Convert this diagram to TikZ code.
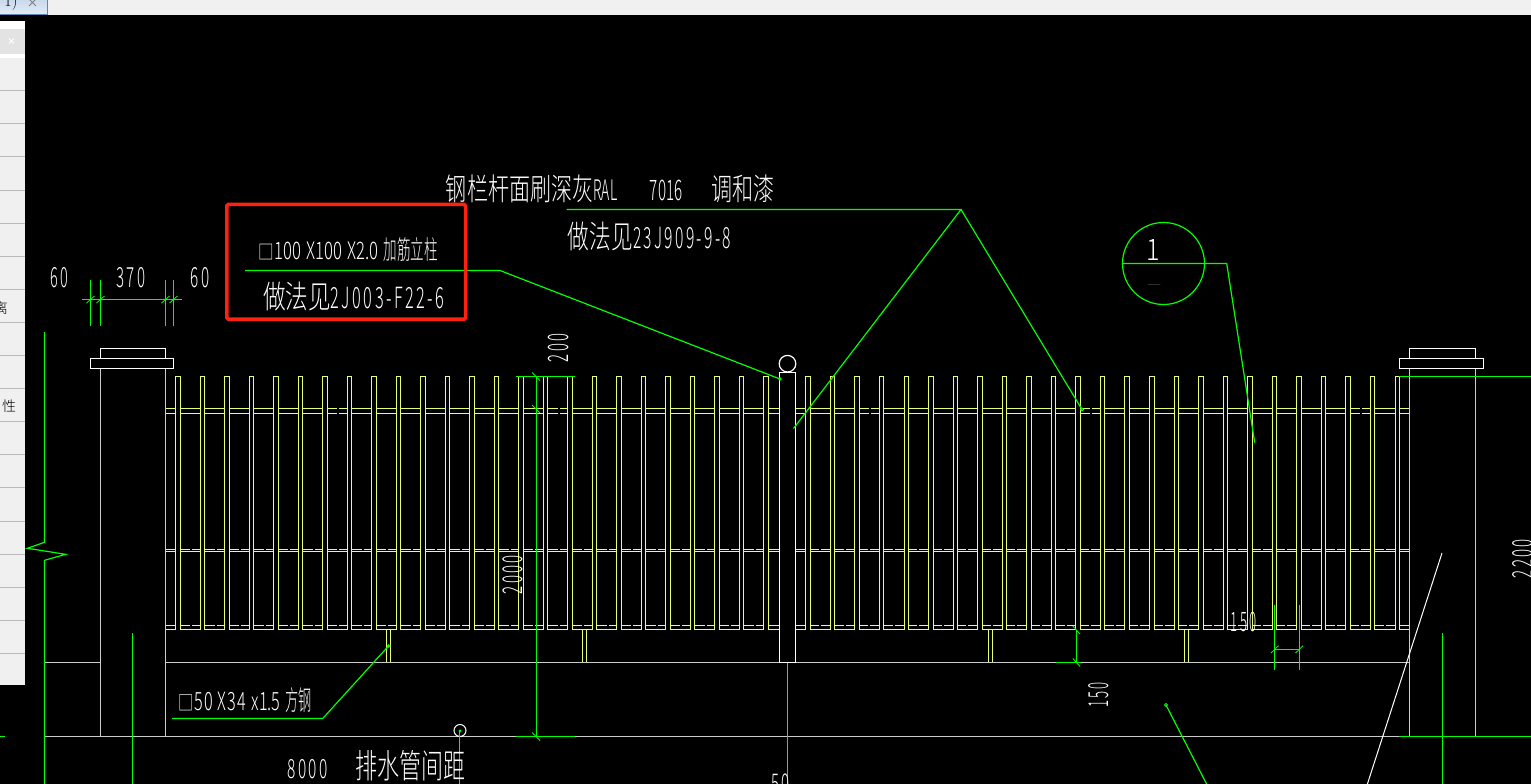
\documentclass[tikz,border=0pt]{standalone}
\usepackage{graphicx}
\usepackage{fontspec}
\newfontfamily\cjk{Noto Sans CJK SC Light}
\newcommand{\cadfit}[3]{\resizebox*{#1pt}{#2pt}{\fontsize{20pt}{22pt}\cjk #3}}
\newcommand{\cadnum}[3][0]{{\addfontfeature{LetterSpace=#1}\scalebox{#2}[.92]{#3}}}
\definecolor{cadgreen}{HTML}{00FF00}
\definecolor{cadyellow}{HTML}{EAFF70}
\definecolor{cadgrey}{HTML}{CCCCCC}
\definecolor{cadred}{HTML}{FF2010}
\definecolor{uibg}{HTML}{F0F0F0}
\definecolor{tabedge}{HTML}{5B87B5}
\definecolor{tabtop}{HTML}{C6D8EC}
\definecolor{tabbot}{HTML}{E2ECF6}
\tikzset{
  greenline/.style={draw=cadgreen,line width=1.2pt},
  greyline/.style={draw=cadgrey,line width=1.2pt},
  whiteline/.style={draw=white,line width=1.2pt},
  picket/.style={draw=cadyellow,fill=black,line width=1.7pt},
  rail/.style={draw=cadyellow,line width=1.6pt},
  cadtext/.style={text=white,inner sep=0pt,outer sep=0pt},
  uitext/.style={text=black,inner sep=0pt,font=\fontsize{14pt}{14pt}\cjk},
}
\begin{document}
\begin{tikzpicture}[x=1pt,y=-1pt]
\useasboundingbox (0,0) rectangle (1531,784);
\clip (0,0) rectangle (1531,784);
\fill[black] (0,0) rectangle (1531,784);
% --- window chrome
\fill[uibg] (0,0) rectangle (1531,14.7);
\shade[top color=tabtop,bottom color=tabbot] (-2,-2) rectangle (47.5,14.5);
\draw[draw=tabedge,line width=1pt] (-2,14.5) -- (47.5,14.5) -- (47.5,-2);
\node[uitext,anchor=base,font=\fontsize{16pt}{16pt}\selectfont] (tabname) at (11,7) {1)};
\draw[draw=gray,line width=1pt] (29,-1) -- (36,6) (36,-1) -- (29,6);
\fill[uibg] (0,20.7) rectangle (25,684.7);
\fill[white] (0,20.7) rectangle (25,57.7);
\fill[black!11] (0,29) rectangle (25,54);
\draw[white,line width=1pt] (9,38.5) -- (14,43.5) (14,38.5) -- (9,43.5);
\foreach \k in {0,...,17}{
  \pgfmathsetmacro\yy{90.7+33.1*\k}
  \draw[draw=black!27,line width=1pt] (0,\yy) -- (25,\yy);
}
\begin{scope}
\clip (0,20) rectangle (25,685);
\node[uitext,anchor=center] (ui1) at (1,308) {离};
\node[uitext,anchor=center] (ui2) at (9,406) {性};
\end{scope}
% --- rails
\foreach \y in {408.5,413.5,549.5,551.5,625.5,629.5}{
  \draw[rail] (165.5,\y) -- (1409.5,\y);
}
\foreach \xx in {337,558,869,1090,1360}{
  \fill[black] (\xx,407.5) rectangle ++(2,1.9);
  \fill[black] (\xx,412.5) rectangle ++(2,1.9);
}
\foreach \k in {0,...,23}{
  \pgfmathsetmacro\xa{190+24.5*\k}
  \pgfmathsetmacro\xb{819+24.55*\k}
  \fill[black] (\xa,548.5) rectangle ++(2,1.9);
  \fill[black] (\xb,548.5) rectangle ++(2,1.9);
  \fill[black] (\xa,624.5) rectangle ++(2,1.9);
  \fill[black] (\xb,624.5) rectangle ++(2,1.9);
}
% --- pickets
\foreach \k in {0,...,24}{
  \pgfmathsetmacro\xa{round(175.3+24.5*\k)+.5}
  \pgfmathsetmacro\xb{round(175.3+24.5*\k+4.5)+.5}
  \draw[picket] (\xa,629.5) -- (\xa,376.5) -- (\xb,376.5) -- (\xb,629.5);
  \pgfmathsetmacro\xc{round(805.3+24.55*\k)+.5}
  \pgfmathsetmacro\xd{round(805.3+24.55*\k+4.5)+.5}
  \draw[picket] (\xc,629.5) -- (\xc,376.5) -- (\xd,376.5) -- (\xd,629.5);
}
% --- supports under the bottom rail
\foreach \xx in {386,582,988,1184}{
  \draw[rail] (\xx.5,629.5) -- (\xx.5,662.5) (\xx.5+4,629.5) -- (\xx.5+4,662.5);
}
% --- ground and brick posts
\draw[greyline] (44.5,662.5) -- (100.5,662.5) (165.5,662.5) -- (1409.5,662.5);
\draw[greyline] (44.5,736.5) -- (1409.5,736.5);
\draw[greyline] (100.5,368.5) -- (100.5,736.5) (165.5,368.5) -- (165.5,736.5);
\draw[greyline] (1409.5,368.5) -- (1409.5,736.5) (1475.5,368.5) -- (1475.5,736.5);
\draw[whiteline] (100.5,358.5) rectangle (165.5,348.5);
\draw[whiteline] (90.5,358.5) rectangle (173.5,368.5);
\draw[whiteline] (1409.5,358.5) rectangle (1475.5,348.5);
\draw[whiteline] (1399.5,358.5) rectangle (1483.5,368.5);
% --- centre post
\draw[whiteline,fill=black] (779.5,372.5) rectangle (795.5,662.5);
\draw[whiteline] (787.5,363.7) circle (8.3);
% --- green break line and axes
\draw[greenline] (44.5,332) -- (44.5,542.3) -- (27.3,548.3) -- (65.7,554.3) -- (44.5,560.3) -- (44.5,784);
\draw[greenline] (132.5,633) -- (132.5,784);
\draw[greenline] (0,736.5) -- (5,736.5);
\draw[greenline] (1442.5,633) -- (1442.5,784);
\draw[greenline] (1399,736.5) -- (1531,736.5);
\draw[greenline] (1399,376.5) -- (1531,376.5);
\draw[greenline] (787.5,662.5) -- (787.5,784);
% --- dimension 60/370/60
\draw[greenline] (82,299.5) -- (182,299.5);
\foreach \xx in {90.5,100.5,165.5,173.5}{
  \draw[greenline] (\xx,280) -- (\xx,325.7);
  \draw[draw=cadgreen,line width=.8pt] (\xx-4,303) -- (\xx+4,296);
}
% --- dimension 2000/200
\draw[greenline] (536.5,376.5) -- (536.5,736.5);
\draw[greenline] (516,376.5) -- (575,376.5) (516,736.5) -- (575,736.5);
\foreach \yy in {376.5,409,736.5}{
  \draw[draw=cadgreen,line width=.8pt] (532,\yy-4) -- (540,\yy+4);
}
% --- dimension 150 (vertical)
\draw[greenline] (1076.5,629.5) -- (1076.5,662.5);
\draw[greenline] (1056,662.5) -- (1081,662.5);
\draw[draw=cadgreen,line width=.8pt] (1072.8,626) -- (1080,634) (1072.8,658.5) -- (1080,666.5);
% --- dimension 150 (horizontal)
\draw[greenline] (1274.5,604.5) -- (1274.5,670) (1299.5,604.5) -- (1299.5,670);
\draw[greenline] (1274.5,649.5) -- (1299.5,649.5);
\draw[draw=cadgreen,line width=.8pt] (1271,653) -- (1278.5,645.7) (1295.5,653) -- (1303,645.7);
% --- white diagonal break
\draw[draw=white,line width=1pt] (1442,553) -- (1367.4,784);
% --- leaders
\coordinate (la) at (245,270.5);
\coordinate (lb) at (500,270.5);
\coordinate (lc) at (780,379);
\draw[greenline] (la) -- (lb) -- (lc);
\fill[cadgreen] (lc) circle (1.8);
\coordinate (ta) at (566.5,209.5);
\coordinate (tb) at (961,209.5);
\coordinate (tc) at (793.5,428.5);
\coordinate (td) at (1082,409.5);
\draw[greenline] (ta) -- (tb) -- (tc);
\draw[greenline] (tb) -- (td);
\draw[draw=cadgreen,line width=1pt] (td) circle (1.5);
\coordinate (sb) at (1226.7,263.5);
\coordinate (sc) at (1254.7,442.7);
\node[circle,draw=cadgreen,line width=1.2pt,minimum size=82pt,inner sep=0pt] (sect) at (1163.5,263.5) {};
\draw[greenline] (sect.west) -- (sb) -- (sc);
\coordinate (ba) at (172,718.5);
\coordinate (bb) at (322.7,718.5);
\coordinate (bc) at (388.5,646);
\draw[greenline] (ba) -- (bb) -- (bc);
\draw[draw=cadgreen,line width=1pt] (bc) circle (1.2);
\coordinate (ra) at (1166,705);
\coordinate (rb) at (1206.6,784);
\draw[greenline] (ra) -- (rb);
\draw[draw=cadgreen,line width=1pt] (ra) circle (1.5);
\node[circle,draw=white,line width=1pt,minimum size=12pt,inner sep=0pt] (drain) at (460,730.5) {};
\coordinate (dr) at (459.5,784);
\fill[cadgreen] (460,731) circle (1.7);
\draw[greenline] (459.5,731) -- (dr);
% --- red highlight
\draw[draw=cadred,line width=3.5pt,rounded corners=1.5pt] (226.8,204.4) rectangle (465.6,319.2);
% --- texts
\node[cadtext] (t1) at (610.5,189) {\cadfit{329}{28}{钢栏杆面刷深灰\cadnum{.66}{RAL}\hspace{31pt}\cadnum{.72}{7016}\hspace{28pt}调和漆}};
\node[cadtext] (t2) at (649.5,236.5) {\cadfit{163}{29}{做法见\cadnum[15]{.72}{23J909-9-8}}};
\node[cadtext] (t3) at (348.5,250) {\cadfit{179}{24}{\scalebox{.75}[.75]{□}\cadnum{.8}{100}\hspace{5pt}\cadnum{.8}{X100}\hspace{5pt}\cadnum{.8}{X2.0}\hspace{5pt}\scalebox{.65}[1]{加筋立柱}}};
\node[cadtext] (t4) at (353.5,296.2) {\cadfit{181}{29}{做法见\cadnum[15]{.72}{2J003-F22-6}}};
\node[cadtext] (t5) at (245.5,700.5) {\cadfit{133}{25}{\scalebox{.75}[.75]{□}\cadnum[8]{.8}{50}\hspace{5pt}\cadnum[8]{.8}{X34}\hspace{5pt}\cadnum{.8}{x1.5}\hspace{5pt}\scalebox{.65}[1]{方钢}}};
\node[cadtext] (t6) at (307.7,769) {\cadfit{40}{19.4}{\cadnum[15]{.8}{8000}}};
\node[cadtext] (t7) at (410,765.3) {\cadfit{110}{30.7}{排水管间距}};
\node[cadtext] (t8) at (59.5,277.5) {\cadfit{17.6}{20.4}{\cadnum[15]{.8}{60}}};
\node[cadtext] (t9) at (131,277.5) {\cadfit{28.6}{20.4}{\cadnum[15]{.8}{370}}};
\node[cadtext] (t10) at (200,277.5) {\cadfit{18.6}{20.4}{\cadnum[15]{.8}{60}}};
\node[cadtext] (t11) at (1243.6,622) {\cadfit{25.3}{19.7}{\cadnum[15]{.8}{150}}};
\node[cadtext,rotate=90] (t12) at (1099,695) {\cadfit{25}{20.3}{\cadnum[15]{.8}{150}}};
\node[cadtext,rotate=90] (t13) at (1523,558.5) {\cadfit{39}{20.3}{\cadnum[15]{.8}{2200}}};
\node[cadtext,rotate=90] (t14) at (558.7,348) {\cadfit{28.3}{20.7}{\cadnum[15]{.8}{200}}};
\node[cadtext,rotate=90] (t15) at (513.3,574.5) {\cadfit{39}{20}{\cadnum[15]{.8}{2000}}};
\node[cadtext] (t16) at (780.8,784) {\cadfit{18.3}{20}{\cadnum[15]{.8}{50}}};
\node[cadtext] (t17) at (1153.7,250) {\cadfit{13.5}{21}{\cadnum{.8}{1}}};
\node[cadtext] (t18) at (1154,285.5) {\resizebox{14pt}{1.3pt}{\cjk —}};
\end{tikzpicture}
\end{document}
